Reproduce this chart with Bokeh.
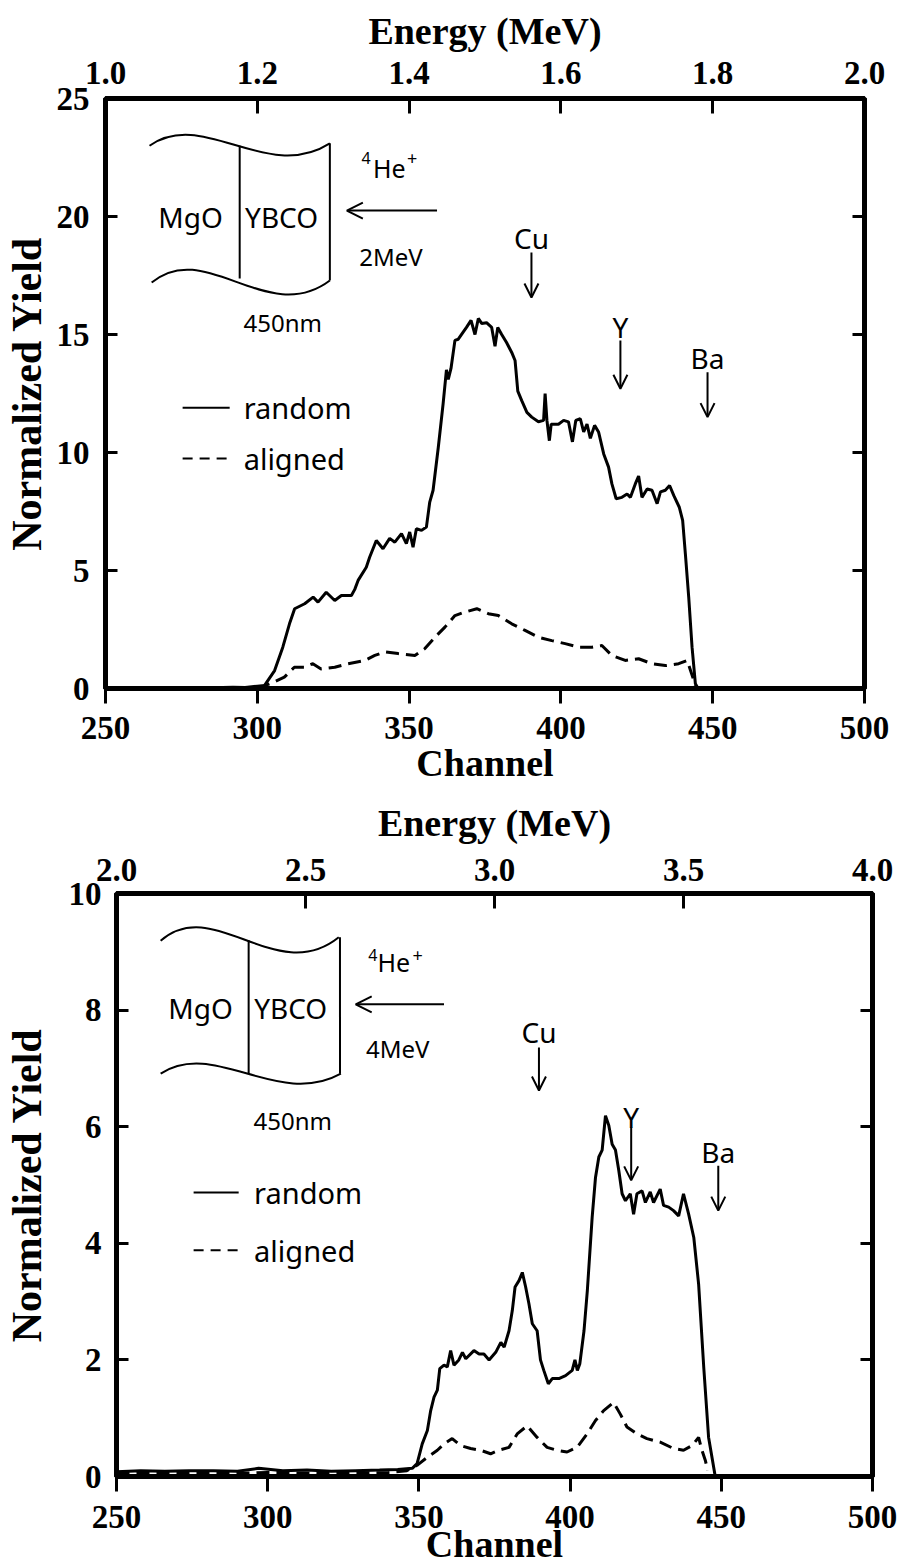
from bokeh.plotting import figure
from bokeh.models import Range1d, LinearAxis, FixedTicker, NumeralTickFormatter, Arrow, OpenHead
from bokeh.core.properties import value
from bokeh.embed import file_html
from bokeh.resources import INLINE

# ---------------- data: 2 MeV spectrum (top) ----------------
top_random_ch = [250, 270, 285, 292, 296, 300, 302.4, 305.7, 308.4, 310.6, 312.3, 315.6, 318.4, 320.0, 322.7,
                 325.5, 327.7, 331.0, 332.1, 333.2, 335.9, 337.0, 339.2, 341.4, 343.6, 345.3, 347.5, 349.1,
                 350.2, 351.3, 352.4, 354.1, 355.7, 356.8, 357.9, 359.6, 361.2, 362.3, 362.9, 363.8, 365.1,
                 366.2, 367.8, 368.9, 370.4, 371.7, 372.8, 373.9, 375.5, 377.2, 378.3, 379.2, 380.5, 382.1,
                 383.8, 384.9, 385.8, 387.1, 388.8, 390.4, 392.6, 394.3, 394.8, 395.4, 396.2, 396.8, 399.2,
                 400.9, 402.5, 403.8, 404.9, 406.4, 407.5, 408.6, 409.7, 411.1, 412.4, 414.1, 415.7, 416.8,
                 418.2, 420.1, 421.8, 422.9, 424.5, 425.6, 426.7, 428.4, 430.0, 431.7, 432.8, 434.4, 435.8,
                 437.2, 439.0, 440.1, 441.0, 442.1, 443.2, 444.3, 445.2]
top_random_y = [0, 0, 0.03, 0.05, 0.04, 0.1, 0.13, 0.76, 1.75, 2.74, 3.38, 3.59, 3.87, 3.66, 4.08,
                3.73, 3.94, 3.94, 4.2, 4.58, 5.14, 5.56, 6.27, 5.92, 6.36, 6.2, 6.56, 6.14,
                6.63, 5.99, 6.77, 6.7, 6.84, 7.9, 8.4, 10.2, 12.06, 13.5, 13.1, 13.56, 14.75,
                14.8, 15.1, 15.3, 15.6, 15.0, 15.68, 15.47, 15.5, 15.3, 14.5, 15.3, 15.0, 14.66,
                14.24, 13.9, 12.6, 12.2, 11.7, 11.5, 11.3, 11.36, 12.5, 11.36, 10.5, 11.2, 11.2,
                11.36, 11.3, 10.45, 11.36, 11.43, 10.87, 11.2, 10.6, 11.15, 10.87, 9.94, 9.38, 8.67,
                8.04, 8.1, 8.24, 8.1, 8.67, 9.0, 8.1, 8.45, 8.4, 7.83, 8.33, 8.4, 8.6,
                8.17, 7.68, 7.12, 5.7, 3.87, 1.75, 0.2, 0.0]
top_aligned_ch = [300, 302, 305, 308.9, 312.2, 315.5, 318.3, 321.0, 325.5, 329.9, 335.4, 338.7, 342.0, 346.4,
                  351.9, 355.2, 358.5, 361.8, 365.1, 368.4, 372.3, 376.1, 379.4, 383.8, 388.2, 392.6, 397.0,
                  401.4, 405.8, 410.2, 413.5, 416.8, 421.2, 425.6, 430.0, 434.4, 438.8, 441.6, 442.7, 443.8, 444.6]
top_aligned_y = [0.0, 0.1, 0.25, 0.48, 0.9, 0.9, 1.05, 0.83, 0.9, 1.05, 1.19, 1.4, 1.55, 1.48,
                 1.4, 1.69, 2.17, 2.6, 3.09, 3.24, 3.38, 3.17, 3.09, 2.74, 2.46, 2.17, 2.03,
                 1.9, 1.75, 1.75, 1.82, 1.4, 1.19, 1.26, 1.05, 0.97, 1.05, 1.19, 0.76, 0.33, 0.0]

# ---------------- data: 4 MeV spectrum (bottom) ----------------
bot_random_ch = [250, 258, 266, 274, 282, 290, 297, 305, 313, 321, 329, 337, 343, 347.8, 349.4, 351.1, 352.8,
                 353.9, 355.0, 356.1, 356.9, 358.3, 359.4, 360.5, 361.6, 363.2, 364.4, 365.5, 368.2, 369.9,
                 371.5, 373.2, 375.4, 377.1, 378.2, 379.8, 380.9, 381.8, 383.1, 384.2, 385.3, 386.4, 387.5,
                 389.1, 390.2, 391.3, 392.8, 394.1, 396.3, 398.5, 400.7, 401.6, 402.4, 403.2, 404.6, 405.7,
                 407.3, 408.4, 409.5, 410.6, 411.7, 412.8, 413.9, 415.0, 416.1, 417.2, 418.3, 419.9, 421.0,
                 422.1, 423.8, 424.9, 426.5, 427.6, 429.8, 430.9, 432.6, 434.2, 435.9, 437.5, 439.2, 440.9,
                 442.5, 444.2, 445.8, 448.0]
bot_random_y = [0.08, 0.1, 0.09, 0.1, 0.1, 0.09, 0.14, 0.1, 0.11, 0.09, 0.1, 0.11, 0.12, 0.14, 0.22, 0.56, 0.79,
                1.13, 1.36, 1.48, 1.85, 1.91, 1.88, 2.16, 1.91, 2.0, 2.13, 2.02, 2.16, 2.1,
                2.1, 2.0, 2.13, 2.3, 2.22, 2.5, 2.85, 3.25, 3.36, 3.5, 3.25, 2.96, 2.62,
                2.5, 2.0, 1.82, 1.59, 1.68, 1.68, 1.73, 1.82, 2.0, 1.82, 1.93, 2.5, 3.19,
                4.45, 5.13, 5.48, 5.6, 6.19, 6.02, 5.7, 5.6, 5.25, 4.85, 4.73, 4.85, 4.5,
                4.85, 4.9, 4.7, 4.88, 4.7, 4.93, 4.65, 4.62, 4.56, 4.47, 4.85, 4.5, 4.1,
                3.3, 1.87, 0.67, 0.0]
bot_aligned_ch = [250, 260, 270, 280, 290, 300, 310, 320, 330, 340, 346, 349.6, 352.8, 356.1, 358.3, 361.0,
                  363.8, 367.1, 370.4, 373.7, 376.4, 379.8, 382.5, 385.8, 389.1, 392.4, 395.7, 399.0, 402.3,
                  405.6, 408.4, 411.1, 414.4, 416.6, 418.8, 422.1, 425.4, 429.8, 434.2, 437.5, 440.3, 442.5,
                  443.6, 444.7, 445.5]
bot_aligned_y = [0.05, 0.06, 0.05, 0.06, 0.05, 0.07, 0.06, 0.05, 0.06, 0.07, 0.1, 0.2, 0.33, 0.45, 0.56, 0.65,
                 0.53, 0.48, 0.45, 0.39, 0.45, 0.5, 0.73, 0.87, 0.67, 0.5, 0.45, 0.42, 0.5,
                 0.73, 0.96, 1.13, 1.27, 1.07, 0.85, 0.73, 0.65, 0.59, 0.48, 0.45, 0.53, 0.67,
                 0.45, 0.28, 0.1]

channel_ticks = [250, 300, 350, 400, 450, 500]
top_y_ticks = [0, 5, 10, 15, 20, 25]
bot_y_ticks = [0, 2, 4, 6, 8, 10]
top_energy_ticks = [1.0, 1.2, 1.4, 1.6, 1.8, 2.0]
bot_energy_ticks = [2.0, 2.5, 3.0, 3.5, 4.0]
element_labels = ["Cu", "Y", "Ba"]

SERIF = "Liberation Serif"
SANS = "Noto Sans"


def make_plot(height, borders, ymax, yticks, erange, eticks, standoffs, title_standoffs):
    left, right, top, bottom = borders
    s_bottom, s_top, s_left = standoffs
    t_bottom, t_top, t_left = title_standoffs
    p = figure(width=897, height=height, x_range=Range1d(250, 500), y_range=Range1d(0, ymax),
               output_backend="svg", toolbar_location=None,
               min_border_left=left, min_border_right=right, min_border_top=top, min_border_bottom=bottom,
               x_axis_location=None, y_axis_location=None)
    p.extra_x_ranges = {"energy": Range1d(*erange)}
    p.xgrid.visible = False
    p.ygrid.visible = False
    p.outline_line_color = "black"
    p.outline_line_width = 5
    p.background_fill_color = "white"
    p.border_fill_color = "white"

    def style(ax, tin, tout, standoff, size="33px"):
        ax.axis_line_width = 5
        ax.axis_line_color = "black"
        ax.major_tick_in = tin
        ax.major_tick_out = tout
        ax.major_tick_line_width = 3
        ax.minor_tick_line_color = None
        ax.major_label_text_font = SERIF
        ax.major_label_text_font_style = "bold"
        ax.major_label_text_font_size = size
        ax.major_label_text_color = "black"
        ax.major_label_standoff = standoff
        ax.axis_label_text_font = SERIF
        ax.axis_label_text_font_style = "bold"
        ax.axis_label_text_color = "black"

    xb = LinearAxis(ticker=FixedTicker(ticks=channel_ticks), axis_label="Channel")
    style(xb, 0, 15, s_bottom)
    xb.axis_label_text_font_size = "38px"
    xb.axis_label_standoff = t_bottom
    p.add_layout(xb, "below")

    xt = LinearAxis(x_range_name="energy", ticker=FixedTicker(ticks=eticks),
                    formatter=NumeralTickFormatter(format="0.0"), axis_label="Energy (MeV)")
    style(xt, 15, 0, s_top)
    xt.axis_label_text_font_size = "38px"
    xt.axis_label_standoff = t_top
    p.add_layout(xt, "above")

    yl = LinearAxis(ticker=FixedTicker(ticks=yticks), axis_label="Normalized Yield")
    style(yl, 12, 0, s_left)
    yl.axis_label_text_font_size = "42px"
    yl.axis_label_standoff = t_left
    p.add_layout(yl, "left")

    yr = LinearAxis(ticker=FixedTicker(ticks=yticks[1:-1]),
                    major_label_overrides={t: "" for t in yticks})
    style(yr, 12, 0, 0, size="2px")
    p.add_layout(yr, "right")
    return p


def sans_text(p, x, y, s, size, align="center"):
    p.text(x=[x], y=[y], text=[s], text_font=value(SANS), text_font_size=size,
           text_align=align, text_baseline="middle", text_color="black")


def diagram(p, wt, wb, xdiv, xr, mg, yb, arrow, he, mev, nm, leg, elems, mev_text):
    # wavy top and bottom edges of the sample drawing
    for (x0, y0, x1, y1, amp) in (wt, wb):
        p.bezier(x0=[x0], y0=[y0], x1=[x1], y1=[y1],
                 cx0=[x0 + (x1 - x0) * 0.3], cy0=[y0 + amp],
                 cx1=[x0 + (x1 - x0) * 0.65], cy1=[y0 - amp],
                 line_color="black", line_width=2)
    p.segment(x0=[xdiv[0], xr[0]], y0=[xdiv[1], xr[1]], x1=[xdiv[0], xr[0]], y1=[xdiv[2], xr[2]],
              line_color="black", line_width=2)
    sans_text(p, mg[0], mg[1], "MgO", "28px")
    sans_text(p, yb[0], yb[1], "YBCO", "28px")
    p.add_layout(Arrow(end=OpenHead(size=16, line_width=2, line_color="black"),
                       x_start=arrow[0], y_start=arrow[2], x_end=arrow[1], y_end=arrow[2],
                       line_width=2, line_color="black"))
    sans_text(p, he[0], he[1], "He", "25px")
    sans_text(p, he[2], he[3], "4", "16px")
    sans_text(p, he[4], he[3], "+", "18px")
    sans_text(p, mev[0], mev[1], mev_text, "24px")
    sans_text(p, nm[0], nm[1], "450nm", "24px")
    # legend
    lx0, lx1, ytxt_r, ytxt_a, xtxt = leg
    p.line(x=[lx0, lx1], y=[ytxt_r, ytxt_r], line_color="black", line_width=2)
    p.line(x=[lx0, lx1], y=[ytxt_a, ytxt_a], line_color="black", line_width=2, line_dash="10 7")
    sans_text(p, xtxt, ytxt_r, "random", "29px", "left")
    sans_text(p, xtxt, ytxt_a, "aligned", "29px", "left")
    # element markers
    for name, (ex, ety, ay0, ay1) in zip(element_labels, elems):
        sans_text(p, ex, ety, name, "28px")
        p.add_layout(Arrow(end=OpenHead(size=14, line_width=2, line_color="black"),
                           x_start=ex, y_start=ay0, x_end=ex, y_end=ay1,
                           line_width=2, line_color="black"))


# ---------------- top panel ----------------
p1 = make_plot(790, (105, 33, 98, 102), 25, top_y_ticks, (1.0, 2.0), top_energy_ticks,
               (13, 15, 16), (0, 7, 4))
p1.line(top_random_ch, top_random_y, line_color="black", line_width=3)
p1.line(top_aligned_ch, top_aligned_y, line_color="black", line_width=3, line_dash="13 7")
diagram(p1,
        wt=(264.5, 23.0, 323.9, 23.1, 1.6), wb=(265.2, 17.2, 323.9, 17.29, 1.9),
        xdiv=(294.2, 23.0, 17.37), xr=(323.9, 23.1, 17.29),
        mg=(278, 20.0), yb=(308, 20.0), arrow=(359.2, 329.5, 20.25),
        he=(343.5, 22.07, 335.8, 22.46, 351.0), mev=(344, 18.3), nm=(308.4, 15.5),
        leg=(275.4, 290.9, 11.9, 9.75, 295.5),
        elems=[(390.3, 19.07, 18.47, 16.57), (419.6, 15.3, 14.75, 12.7), (448.3, 14.0, 13.4, 11.5)],
        mev_text="2MeV")

# ---------------- bottom panel ----------------
p2 = make_plot(778, (116, 25, 103, 92), 10, bot_y_ticks, (2.0, 4.0), bot_energy_ticks,
               (14, 13, 15), (-8, 12, 16))
p2.line(bot_random_ch, bot_random_y, line_color="black", line_width=3)
p2.line(bot_aligned_ch, bot_aligned_y, line_color="black", line_width=3, line_dash="13 7")
diagram(p2,
        wt=(264.6, 9.19, 323.5, 9.25, 0.8), wb=(264.6, 6.91, 324.2, 6.91, 0.6),
        xdiv=(293.7, 9.2, 6.91), xr=(323.9, 9.25, 6.91),
        mg=(277.8, 8.04), yb=(307.6, 8.04), arrow=(358.3, 329.1, 8.1),
        he=(341.7, 8.82, 334.8, 8.94, 349.6), mev=(343, 7.34), nm=(308.3, 6.1),
        leg=(275.5, 290.4, 4.87, 3.88, 295.5),
        elems=[(389.7, 7.62, 7.36, 6.62), (420.2, 6.16, 5.99, 5.08), (449.0, 5.56, 5.33, 4.56)],
        mev_text="4MeV")

# two independent roots, stacked on the page (no shared frame alignment)
open("out.html", "w").write(file_html([p1, p2], INLINE))
